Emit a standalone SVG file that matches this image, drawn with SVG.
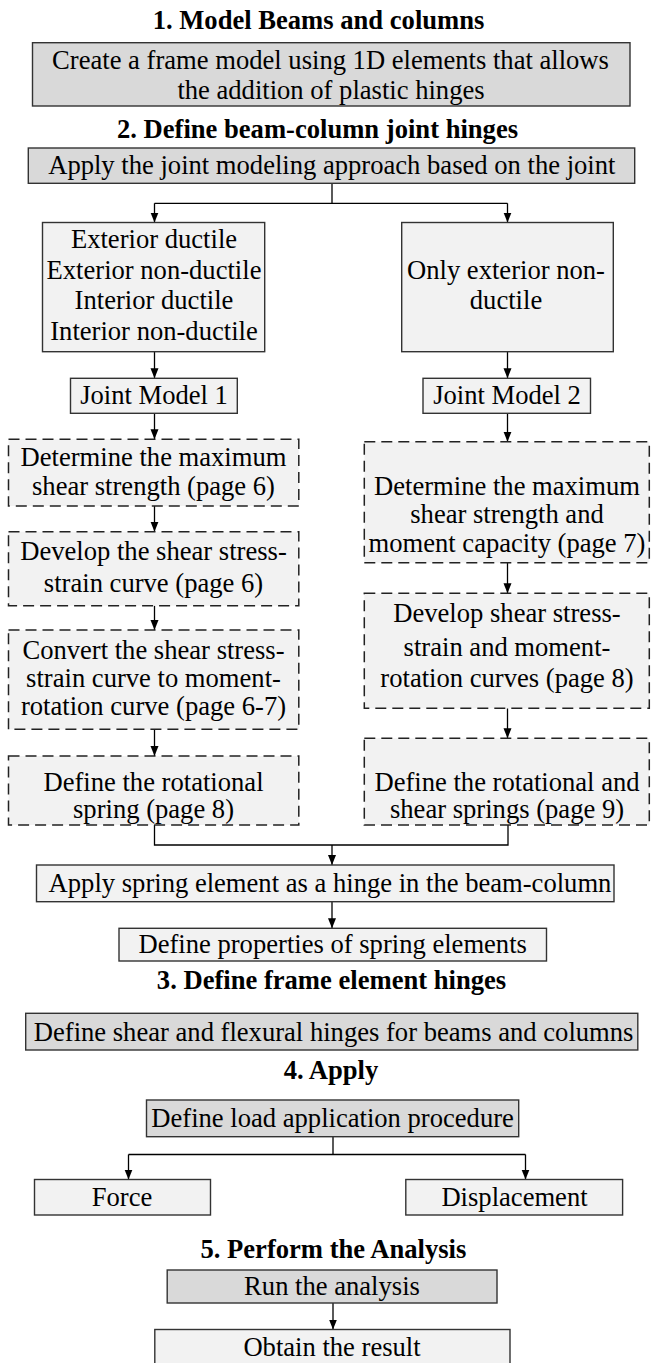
<svg xmlns="http://www.w3.org/2000/svg" width="651" height="1363" viewBox="0 0 651 1363">
<defs>
<style>
.t{font-family:"Liberation Serif","Times New Roman",serif;font-size:26.6px;fill:#000;text-anchor:middle}
.h{font-family:"Liberation Serif","Times New Roman",serif;font-size:26.6px;font-weight:bold;fill:#000;text-anchor:middle}
.d{fill:#d9d9d9;stroke:#333;stroke-width:1.4}
.l{fill:#f2f2f2;stroke:#333;stroke-width:1.4}
.ds{fill:#f2f2f2;stroke:#222;stroke-width:1.5;stroke-dasharray:11 6}
.c{fill:none;stroke:#000;stroke-width:1.3}
</style>
<marker id="ah" viewBox="0 0 10 10" refX="10" refY="5" markerWidth="10" markerHeight="10" markerUnits="userSpaceOnUse" orient="auto">
<path d="M0,1 L10,5 L0,9 z" fill="#000"/>
</marker>
</defs>
<rect width="651" height="1363" fill="#fff"/>

<g id="connectors">
<path class="c" d="M332,183.3 V203.3"/>
<path class="c" d="M154.5,203.3 H507.5"/>
<path class="c" d="M154.5,203.3 V222.5" marker-end="url(#ah)"/>
<path class="c" d="M507.5,203.3 V222.5" marker-end="url(#ah)"/>
<path class="c" d="M154.5,351.7 V378.3" marker-end="url(#ah)"/>
<path class="c" d="M507.5,351.7 V378.3" marker-end="url(#ah)"/>
<path class="c" d="M154.5,413.3 V439.3" marker-end="url(#ah)"/>
<path class="c" d="M154.5,506 V531.7" marker-end="url(#ah)"/>
<path class="c" d="M154.5,605.7 V630" marker-end="url(#ah)"/>
<path class="c" d="M154.5,729.3 V756" marker-end="url(#ah)"/>
<path class="c" d="M507.5,413.3 V441.7" marker-end="url(#ah)"/>
<path class="c" d="M507.5,562.7 V593.3" marker-end="url(#ah)"/>
<path class="c" d="M507.5,708.3 V738.3" marker-end="url(#ah)"/>
<path class="c" d="M154.5,825 V845 H508 V825"/>
<path class="c" d="M332,845 V865" marker-end="url(#ah)"/>
<path class="c" d="M332,901.7 V928.3" marker-end="url(#ah)"/>
<path class="c" d="M333,1136.7 V1154.5"/>
<path class="c" d="M128.5,1154.5 H525.5"/>
<path class="c" d="M128.5,1154.5 V1179.5" marker-end="url(#ah)"/>
<path class="c" d="M525.5,1154.5 V1179.5" marker-end="url(#ah)"/>
<path class="c" d="M333,1303 V1329.5" marker-end="url(#ah)"/>
</g>

<g id="title1"><text class="h" x="318.5" y="28.5">1. Model Beams and columns</text></g>
<g id="box1">
<rect class="d" x="32.5" y="42.7" width="597.5" height="63.3"/>
<text class="t" x="330.5" y="69">Create a frame model using 1D elements that allows</text>
<text class="t" x="331" y="99">the addition of plastic hinges</text>
</g>
<g id="title2"><text class="h" x="317.5" y="138.3">2. Define beam-column joint hinges</text></g>
<g id="box2">
<rect class="d" x="28.3" y="148" width="606.4" height="35.3"/>
<text class="t" x="331.8" y="174">Apply the joint modeling approach based on the joint</text>
</g>

<g id="left-types">
<rect class="l" x="42.5" y="222.5" width="222.2" height="129.2"/>
<text class="t" x="154" y="248.3">Exterior ductile</text>
<text class="t" x="154" y="278.8">Exterior non-ductile</text>
<text class="t" x="154" y="309.3">Interior ductile</text>
<text class="t" x="154" y="339.5">Interior non-ductile</text>
</g>
<g id="right-types">
<rect class="l" x="401.7" y="222.5" width="211.6" height="129.2"/>
<text class="t" x="506" y="278.5">Only exterior non-</text>
<text class="t" x="506" y="308.5">ductile</text>
</g>

<g id="jm1">
<rect class="l" x="70.5" y="378.3" width="166.8" height="35"/>
<text class="t" x="154" y="403.5">Joint Model 1</text>
</g>
<g id="jm2">
<rect class="l" x="423" y="378.3" width="167.5" height="35"/>
<text class="t" x="507" y="403.5">Joint Model 2</text>
</g>

<g id="l1">
<rect class="ds" x="8.5" y="439.3" width="290.3" height="66.7"/>
<text class="t" x="153.5" y="466">Determine the maximum</text>
<text class="t" x="153.5" y="495">shear strength (page 6)</text>
</g>
<g id="l2">
<rect class="ds" x="8.5" y="531.7" width="290.3" height="74"/>
<text class="t" x="153.5" y="560">Develop the shear stress-</text>
<text class="t" x="153.5" y="591.5">strain curve (page 6)</text>
</g>
<g id="l3">
<rect class="ds" x="8.5" y="630" width="290.3" height="99.3"/>
<text class="t" x="153.5" y="658.5">Convert the shear stress-</text>
<text class="t" x="153.5" y="686.5">strain curve to moment-</text>
<text class="t" x="153.5" y="714.5">rotation curve (page 6-7)</text>
</g>
<g id="l4">
<rect class="ds" x="8.5" y="756" width="290.3" height="69"/>
<text class="t" x="153.5" y="790.5">Define the rotational</text>
<text class="t" x="153.5" y="818">spring (page 8)</text>
</g>

<g id="r1">
<rect class="ds" x="364.3" y="441.7" width="285" height="121"/>
<text class="t" x="507" y="495">Determine the maximum</text>
<text class="t" x="507" y="523.3">shear strength and</text>
<text class="t" x="507" y="551.6">moment capacity (page 7)</text>
</g>
<g id="r2">
<rect class="ds" x="364.3" y="593.3" width="285" height="115"/>
<text class="t" x="507" y="622">Develop shear stress-</text>
<text class="t" x="507" y="656">strain and moment-</text>
<text class="t" x="507" y="686.7">rotation curves (page 8)</text>
</g>
<g id="r3">
<rect class="ds" x="364.3" y="738.3" width="285" height="86.7"/>
<text class="t" x="507" y="790.5">Define the rotational and</text>
<text class="t" x="507" y="818">shear springs (page 9)</text>
</g>

<g id="apply-spring">
<rect class="l" x="36.5" y="865" width="577.5" height="36.7"/>
<text class="t" x="330" y="891.8">Apply spring element as a hinge in the beam-column</text>
</g>
<g id="spring-props">
<rect class="l" x="119" y="928.3" width="427.5" height="32.7"/>
<text class="t" x="332.7" y="953.3">Define properties of spring elements</text>
</g>

<g id="title3"><text class="h" x="331.5" y="988.5">3. Define frame element hinges</text></g>
<g id="box4">
<rect class="d" x="25.7" y="1013.3" width="612.1" height="36.7"/>
<text class="t" x="333.6" y="1040.5">Define shear and flexural hinges for beams and columns</text>
</g>

<g id="title4"><text class="h" x="331" y="1079">4. Apply</text></g>
<g id="load">
<rect class="d" x="146.5" y="1100" width="372.2" height="36.7"/>
<text class="t" x="332.6" y="1127">Define load application procedure</text>
</g>
<g id="force">
<rect class="l" x="34.5" y="1179.5" width="176" height="35.5"/>
<text class="t" x="122" y="1206">Force</text>
</g>
<g id="displacement">
<rect class="l" x="405.8" y="1179.5" width="216.8" height="35.5"/>
<text class="t" x="514.5" y="1206">Displacement</text>
</g>

<g id="title5"><text class="h" x="333.4" y="1257.5">5. Perform the Analysis</text></g>
<g id="run">
<rect class="d" x="167.2" y="1270" width="329.8" height="33"/>
<text class="t" x="332" y="1295">Run the analysis</text>
</g>
<g id="obtain">
<rect class="l" x="154.8" y="1329.5" width="355.2" height="40"/>
<text class="t" x="332" y="1356">Obtain the result</text>
</g>
</svg>
